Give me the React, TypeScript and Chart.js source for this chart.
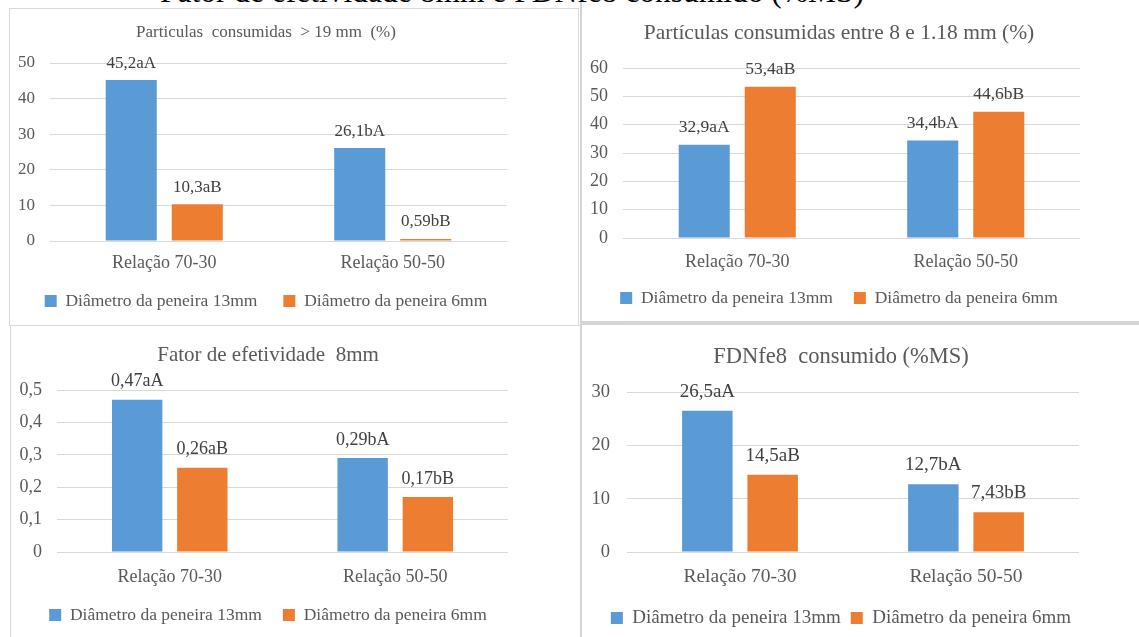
import { useEffect, useRef } from "react";
import { Chart, registerables } from "chart.js";

Chart.register(...registerables);

// ---- shared categories and series ----
const categories = ["Relação 70-30", "Relação 50-50"];
const seriesNames = ["Diâmetro da peneira 13mm", "Diâmetro da peneira 6mm"];
const seriesColors = ["#5B9BD5", "#ED7D31"];

const pageTitle = "Fator de efetividade 8mm e FDNfe8 consumido (%MS)";

// ---- Partículas > 19 mm ----
const coarseTitle = "Particulas  consumidas  > 19 mm  (%)";
const coarse13 = [45.2, 26.1];
const coarse6 = [10.3, 0.59];
const coarse13Letters = ["aA", "bA"];
const coarse6Letters = ["aB", "bB"];
const coarseMax = 50;
const coarseStep = 10;

// ---- Partículas entre 8 e 1.18 mm ----
const mediumTitle = "Partículas consumidas entre 8 e 1.18 mm (%)";
const medium13 = [32.9, 34.4];
const medium6 = [53.4, 44.6];
const medium13Letters = ["aA", "bA"];
const medium6Letters = ["aB", "bB"];
const mediumMax = 60;
const mediumStep = 10;

// ---- Fator de efetividade 8mm ----
const factorTitle = "Fator de efetividade  8mm";
const factor13 = [0.47, 0.29];
const factor6 = [0.26, 0.17];
const factor13Letters = ["aA", "bA"];
const factor6Letters = ["aB", "bB"];
const factorMax = 0.5;
const factorStep = 0.1;

// ---- FDNfe8 consumido ----
const ndfTitle = "FDNfe8  consumido (%MS)";
const ndf13 = [26.5, 12.7];
const ndf6 = [14.5, 7.43];
const ndf13Letters = ["aA", "bA"];
const ndf6Letters = ["aB", "bB"];
const ndfMax = 30;
const ndfStep = 10;

const FONT = '"Liberation Serif", "Times New Roman", serif';
const TEXT_GREY = "#595959";
const LABEL_GREY = "#404040";
const GRID_GREY = "#D9D9D9";

type PanelLayout = {
  cx: number; cy: number; cw: number; ch: number;
  x0: number; x1: number; y0: number; y1: number;
  tickRight: number; titleY: number; xLabelY: number;
  legendY: number; legendGap: number;
  titleSize: number; tickSize: number; labelSize: number;
  catSize: number; legendSize: number;
};

const decimalComma = (v: number) => String(v).replace(".", ",");

// value labels above each bar ("45,2aA" etc.) and the category names under the axis
const barTexts = {
  id: "barTexts",
  afterDatasetsDraw(chart: any, _args: any, opts: any) {
    const { ctx } = chart;
    ctx.save();
    ctx.textAlign = "center";
    ctx.textBaseline = "middle";

    ctx.font = `${opts.size}px ${FONT}`;
    ctx.fillStyle = opts.color;
    chart.data.datasets.forEach((_ds: any, di: number) => {
      const meta = chart.getDatasetMeta(di);
      meta.data.forEach((bar: any, i: number) => {
        ctx.fillText(opts.texts[di][i], bar.x, bar.y - opts.offset);
      });
    });

    const xScale = chart.scales.x;
    ctx.font = `${opts.catSize}px ${FONT}`;
    ctx.fillStyle = opts.catColor;
    chart.data.labels.forEach((label: string, i: number) => {
      ctx.fillText(label, xScale.getPixelForValue(i), chart.chartArea.bottom + opts.catOffset);
    });
    ctx.restore();
  },
};

type PanelProps = {
  title: string;
  a: number[];
  b: number[];
  aLetters: string[];
  bLetters: string[];
  yMax: number;
  yStep: number;
  L: PanelLayout;
};

function BarPanel({ title, a, b, aLetters, bLetters, yMax, yStep, L }: PanelProps) {
  const ref = useRef<HTMLCanvasElement>(null);

  useEffect(() => {
    if (!ref.current) return;
    const yW = L.x0 - L.cx;
    const rightW = L.cx + L.cw - L.x1;
    const tPadTop = L.titleY - L.cy - 0.6 * L.titleSize;
    const tPadBottom = L.y0 - L.cy - tPadTop - 1.2 * L.titleSize;
    const legendTop = L.legendY - L.legendGap - L.legendSize / 2;
    const xH = legendTop - L.y1;
    const legendH = L.legendSize + L.legendGap + 10;
    const padBottom = L.cy + L.ch - legendTop - legendH;
    const decimals = yStep < 1 ? 1 : 0;

    const chart = new Chart(ref.current, {
      type: "bar",
      data: {
        labels: categories,
        datasets: [
          { label: seriesNames[0], data: a, backgroundColor: seriesColors[0], borderWidth: 0 },
          { label: seriesNames[1], data: b, backgroundColor: seriesColors[1], borderWidth: 0 },
        ],
      },
      options: {
        responsive: false,
        animation: false,
        layout: { padding: { top: 0, left: 0, right: 0, bottom: padBottom } },
        datasets: { bar: { categoryPercentage: 0.578, barPercentage: 0.773 } },
        scales: {
          x: {
            grid: { display: false, drawTicks: false },
            border: { display: false },
            ticks: { display: false },
            afterFit: (s: any) => { s.height = xH; },
          },
          y: {
            min: 0,
            max: yMax,
            grid: { color: GRID_GREY, lineWidth: 1, drawTicks: false },
            border: { display: false },
            ticks: {
              stepSize: yStep,
              padding: L.x0 - L.tickRight,
              color: TEXT_GREY,
              font: { family: FONT, size: L.tickSize },
              callback: (v: any) => (Number(v) === 0 ? "0" : Number(v).toFixed(decimals).replace(".", ",")),
            },
            afterFit: (s: any) => { s.width = yW; },
          },
          yRight: {
            type: "linear",
            position: "right",
            display: true,
            grid: { display: false, drawTicks: false },
            border: { display: false },
            ticks: { display: false },
            afterFit: (s: any) => { s.width = rightW; },
          },
        },
        plugins: {
          title: {
            display: true,
            text: title,
            color: TEXT_GREY,
            font: { family: FONT, size: L.titleSize, weight: "normal", lineHeight: 1.2 },
            padding: { top: tPadTop, bottom: tPadBottom },
          },
          legend: {
            display: true,
            position: "bottom",
            labels: {
              boxWidth: 12,
              boxHeight: 12,
              padding: L.legendGap,
              color: TEXT_GREY,
              font: { family: FONT, size: L.legendSize },
            },
          },
          tooltip: { enabled: false },
          barTexts: {
            texts: [
              a.map((v, i) => decimalComma(v) + aLetters[i]),
              b.map((v, i) => decimalComma(v) + bLetters[i]),
            ],
            size: L.labelSize,
            color: LABEL_GREY,
            offset: L.labelSize,
            catSize: L.catSize,
            catColor: TEXT_GREY,
            catOffset: L.xLabelY - L.y1,
          },
        } as any,
      },
      plugins: [barTexts],
    } as any);

    return () => chart.destroy();
  }, []);

  return (
    <canvas
      ref={ref}
      width={L.cw}
      height={L.ch}
      style={{ position: "absolute", left: L.cx, top: L.cy, width: L.cw, height: L.ch }}
    />
  );
}

const layoutTL: PanelLayout = {
  cx: -20, cy: 9, cw: 572, ch: 315,
  x0: 50, x1: 507, y0: 63, y1: 241,
  tickRight: 35, titleY: 33, xLabelY: 263, legendY: 301, legendGap: 26,
  titleSize: 17, tickSize: 17, labelSize: 17, catSize: 18, legendSize: 17.5,
};
const layoutTR: PanelLayout = {
  cx: 570, cy: 0, cw: 538, ch: 321,
  x0: 623, x1: 1080, y0: 68, y1: 238,
  tickRight: 608, titleY: 33, xLabelY: 262, legendY: 298, legendGap: 21,
  titleSize: 21.5, tickSize: 18, labelSize: 17.5, catSize: 18, legendSize: 17.5,
};
const layoutBL: PanelLayout = {
  cx: 0, cy: 327, cw: 536, ch: 310,
  x0: 57, x1: 508, y0: 390, y1: 552,
  tickRight: 42, titleY: 355, xLabelY: 577, legendY: 615, legendGap: 21,
  titleSize: 21, tickSize: 18, labelSize: 18, catSize: 18, legendSize: 17.5,
};
const layoutBR: PanelLayout = {
  cx: 575, cy: 326, cw: 532, ch: 312,
  x0: 627, x1: 1079, y0: 392, y1: 552,
  tickRight: 610, titleY: 357, xLabelY: 577, legendY: 618, legendGap: 10,
  titleSize: 22.5, tickSize: 18.5, labelSize: 19, catSize: 19.5, legendSize: 19,
};

const frame = (left: number, top: number, width: number, height: number, border: string) => (
  <div
    style={{
      position: "absolute",
      left,
      top,
      width,
      height,
      boxSizing: "border-box",
      border,
    }}
  />
);

export default function App() {
  return (
    <div
      style={{
        position: "fixed",
        left: 0,
        top: 0,
        width: 1139,
        height: 637,
        overflow: "hidden",
        background: "#fff",
      }}
    >
      {frame(9, 8, 570, 318, "1px solid #D9D9D9")}
      {frame(580, -5, 600, 328, "2px solid #D4D4D4")}
      {frame(10, 325, 572, 330, "1px solid #D9D9D9")}
      {frame(580, 323, 600, 330, "2px solid #D4D4D4")}
      <div
        style={{
          position: "absolute",
          left: 0,
          top: -24,
          width: 1024,
          textAlign: "center",
          font: `31.5px ${FONT}`,
          lineHeight: "31.5px",
          color: "#000",
          whiteSpace: "nowrap",
        }}
      >
        {pageTitle}
      </div>
      <BarPanel title={coarseTitle} a={coarse13} b={coarse6} aLetters={coarse13Letters} bLetters={coarse6Letters} yMax={coarseMax} yStep={coarseStep} L={layoutTL} />
      <BarPanel title={mediumTitle} a={medium13} b={medium6} aLetters={medium13Letters} bLetters={medium6Letters} yMax={mediumMax} yStep={mediumStep} L={layoutTR} />
      <BarPanel title={factorTitle} a={factor13} b={factor6} aLetters={factor13Letters} bLetters={factor6Letters} yMax={factorMax} yStep={factorStep} L={layoutBL} />
      <BarPanel title={ndfTitle} a={ndf13} b={ndf6} aLetters={ndf13Letters} bLetters={ndf6Letters} yMax={ndfMax} yStep={ndfStep} L={layoutBR} />
    </div>
  );
}
